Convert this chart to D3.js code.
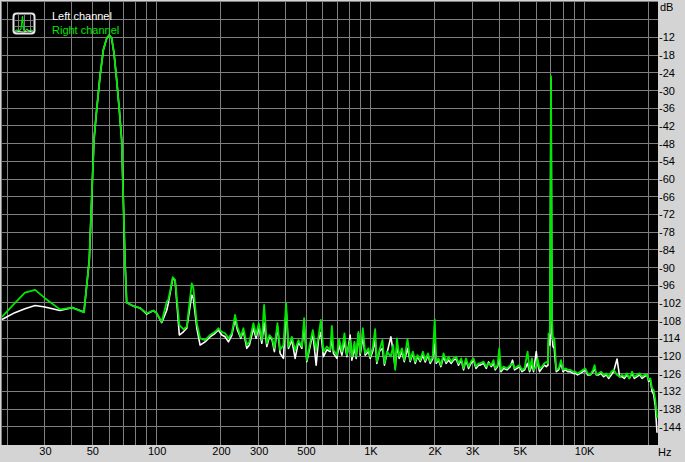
<!DOCTYPE html>
<html>
<head>
<meta charset="utf-8">
<script src="https://cdn.jsdelivr.net/npm/d3@7"></script>
<style>
  html, body { margin: 0; padding: 0; background: #d4d4d4; }
  svg { display: block; font-family: "Liberation Sans", Arial, sans-serif; }
</style>
</head>
<body>
<div id="chart"></div>
<script>
"use strict";

// frequency bins (Hz), shared by both channels
const freqs = [18.9, 21.7, 24.2, 27.0, 30.0, 35.3, 40.2, 45.7, 48.4, 50.9,
    52.4, 54.3, 56.3, 58.4, 60.0, 61.6, 63.2, 65.0, 66.9, 68.6,
    71.1, 72.4, 77.8, 83.6, 89.9, 96.5, 100, 105.6, 111.5, 113.4,
    119, 122, 127.7, 133.4, 138.3, 146, 148.5, 154.1, 159.7, 168.5,
    177.8, 187.7, 194.5, 201.8, 209.1, 216.7, 224.7, 232.8, 238.7, 247.6,
    254.6, 264.1, 271.6, 283.6, 292, 300.6, 310.5, 318.3, 327.7, 337,
    347, 355.6, 367.4, 378.2, 392, 403.5, 413.6, 429.1, 444.6, 460.7,
    477.9, 489.9, 504.3, 518.6, 538, 557.6, 571.5, 586.6, 603.2, 625.7,
    648.4, 660.4, 671.8, 697, 714.4, 735.6, 756.4, 776.2, 804.3, 819.2,
    842.6, 858, 879.6, 895.8, 922.3, 945.5, 979.7, 997.9, 1025, 1053,
    1072, 1103, 1139, 1164, 1195, 1247, 1279, 1307, 1331, 1364,
    1405, 1440, 1492, 1536, 1581, 1621, 1662, 1711, 1761, 1806,
    1859, 1905, 1957, 2000, 2033, 2084, 2139, 2199, 2264, 2321,
    2390, 2449, 2522, 2585, 2662, 2729, 2800, 2880, 2955, 3039,
    3118, 3207, 3266, 3385, 3485, 3572, 3678, 3770, 3840, 3936,
    4009, 4083, 4199, 4355, 4513, 4627, 4727, 4852, 4989, 5120,
    5265, 5438, 5556, 5702, 5801, 5972, 6056, 6188, 6350, 6510,
    6653, 6776, 6820, 6925, 7000, 7074, 7151, 7253, 7332, 7412,
    7597, 7797, 7966, 8166, 8389, 8619, 8872, 9096, 9324, 9598,
    9883, 10130, 10380, 10690, 11010, 11200, 11410, 11690, 12000, 12340,
    12700, 13020, 13410, 13740, 14260, 14660, 15050, 15420, 15880, 16280,
    16760, 17180, 17690, 18190, 18670, 19130, 19700, 20040, 20410, 20790,
    21150, 21540, 21940];

const leftDb = [-107.6, -105.3, -104.0, -102.9, -103.4, -104.6, -103.6, -105.1, -87.5, -46.8,
    -36.6, -25.3, -16.3, -12.3, -11.2, -12.3, -17.4, -26.4, -36.6, -46.8,
    -87.5, -101.9, -103.1, -103.7, -105.8, -104.6, -105.5, -108.7, -104.5, -102.1,
    -93.6, -94.5, -112.9, -111.8, -110.6, -99.3, -100.5, -110.5, -116.3, -115.2,
    -113.5, -112.3, -111.2, -112.9, -113.5, -115.2, -113.0, -107.5, -111.2, -114.0,
    -111.5, -117.4, -116.3, -110.6, -114.0, -110.0, -115.7, -108.8, -116.8, -113.5,
    -114.6, -118.5, -110.0, -119.1, -120.8, -104.0, -117.4, -114.6, -120.8, -115.2,
    -117.4, -109.5, -121.9, -117.9, -112.3, -123.1, -114.6, -112.0, -120.2, -117.9,
    -118.5, -113.5, -119.1, -120.8, -116.3, -119.7, -115.2, -120.2, -112.9, -121.4,
    -117.4, -120.8, -112.3, -119.7, -113.5, -119.7, -118.5, -120.8, -118.5, -114.6,
    -122.5, -118.5, -117.4, -123.1, -119.1, -113.5, -118.5, -124.2, -116.3, -120.8,
    -118.5, -121.9, -117.4, -121.9, -119.1, -122.5, -120.2, -121.9, -119.7, -122.0,
    -119.7, -122.5, -121.0, -116.0, -122.5, -121.4, -123.6, -120.2, -122.5, -121.4,
    -122.5, -121.4, -121.0, -123.1, -121.4, -124.7, -121.4, -124.2, -122.5, -121.4,
    -124.2, -123.1, -123.1, -122.5, -124.2, -122.0, -123.6, -122.5, -124.7, -123.6,
    -121.0, -125.3, -124.2, -124.7, -123.6, -121.4, -124.7, -124.2, -123.6, -125.3,
    -124.7, -122.5, -125.3, -123.1, -125.3, -118.5, -122.5, -125.3, -124.2, -123.1,
    -123.6, -123.1, -114.6, -116.3, -26.0, -112.3, -116.8, -117.4, -121.9, -125.3,
    -124.7, -122.5, -125.3, -124.7, -125.3, -125.3, -125.9, -125.9, -126.4, -125.9,
    -125.3, -124.7, -126.4, -126.4, -125.3, -124.2, -126.4, -126.4, -125.9, -127.0,
    -126.4, -127.6, -126.4, -125.3, -121.0, -127.0, -127.0, -127.6, -126.4, -127.6,
    -125.9, -127.6, -127.0, -126.4, -127.6, -127.0, -126.4, -128.6, -128.1, -132.0,
    -133.0, -137.0, -146.0];

const rightDb = [-106.7, -102.1, -98.5, -97.6, -100.4, -104.2, -103.6, -105.2, -87.5, -46.8,
    -36.6, -25.3, -16.3, -12.3, -11.2, -12.3, -17.4, -26.4, -36.6, -46.8,
    -87.5, -101.9, -103.1, -103.7, -105.5, -104.6, -105.5, -108.4, -101.6, -101.0,
    -93.3, -94.2, -109.5, -110.9, -110.1, -95.4, -96.9, -108.9, -114.0, -114.6,
    -112.9, -111.8, -110.6, -111.8, -112.3, -114.0, -112.3, -106.1, -110.1, -113.5,
    -110.6, -116.3, -115.2, -108.9, -112.9, -108.9, -114.6, -102.7, -115.7, -112.9,
    -114.0, -117.4, -108.9, -118.0, -116.3, -102.1, -116.8, -113.5, -118.0, -114.6,
    -116.8, -107.2, -121.4, -116.8, -111.2, -118.0, -113.5, -107.8, -118.5, -116.8,
    -118.0, -109.8, -118.0, -119.7, -114.3, -118.5, -112.3, -119.7, -114.6, -120.2,
    -115.2, -120.2, -111.8, -119.0, -110.6, -119.1, -117.4, -120.2, -117.3, -110.9,
    -121.9, -118.0, -114.6, -122.5, -118.5, -120.2, -116.3, -124.7, -114.0, -120.0,
    -117.4, -121.4, -114.3, -121.4, -118.5, -121.9, -119.7, -121.4, -118.5, -121.4,
    -119.1, -121.9, -120.3, -107.6, -121.9, -120.8, -123.1, -119.1, -121.9, -120.2,
    -121.9, -120.8, -120.2, -122.5, -120.8, -124.2, -120.8, -123.6, -121.9, -120.8,
    -123.6, -122.5, -122.5, -121.9, -123.6, -122.5, -123.1, -121.4, -124.2, -123.1,
    -117.4, -124.7, -123.6, -124.2, -123.1, -122.5, -124.2, -123.6, -123.1, -124.7,
    -124.2, -118.5, -124.7, -120.8, -124.7, -123.6, -120.8, -124.2, -123.6, -122.5,
    -122.0, -122.5, -112.3, -112.3, -25.1, -107.8, -114.6, -114.0, -119.1, -124.7,
    -124.2, -121.4, -124.7, -124.2, -124.7, -124.7, -125.3, -125.3, -125.9, -125.3,
    -124.7, -124.2, -125.9, -126.4, -124.7, -123.1, -126.4, -125.9, -125.3, -126.4,
    -125.9, -127.0, -125.3, -124.7, -126.4, -127.0, -126.4, -127.0, -125.9, -127.6,
    -125.3, -127.0, -126.4, -125.9, -127.0, -126.4, -126.4, -128.1, -127.6, -131.0,
    -131.5, -134.9, -141.0];

const gridFreqs = [20, 30, 40, 50, 60, 70, 80, 90, 100, 200, 300, 400, 500, 600, 700, 800, 900,
    1000, 2000, 3000, 4000, 5000, 6000, 7000, 8000, 9000, 10000, 20000];
const freqLabelValues = [30, 50, 100, 200, 300, 500, 1000, 2000, 3000, 5000, 10000];
const freqLabels = ["30", "50", "100", "200", "300", "500", "1K", "2K", "3K", "5K", "10K"];
const dbGrid = [-6, -12, -18, -24, -30, -36, -42, -48, -54, -60, -66, -72, -78, -84, -90,
    -96, -102, -108, -114, -120, -126, -132, -138, -144];
const dbLabels = [-12, -18, -24, -30, -36, -42, -48, -54, -60, -66, -72, -78, -84, -90,
    -96, -102, -108, -114, -120, -126, -132, -138, -144];
const seriesNames = ["Left channel", "Right channel"];

function spectrum(div) {
    const WIDTH = 685;
    const HEIGHT = 462;
    const GREEN = "#00e800";
    const GRID = "#808080";
    const plot = {left: 1, right: 658, top: 1, bottom: 445};

    const x = d3.scaleLog().domain([18.9, 22050]).range([2, 657.5]);
    const y = d3.scaleLinear().domain([0, -150]).range([2, 444.5]);
    const snap = v => Math.floor(v) + 0.5;

    const svg = d3.select(div)
        .append("svg")
        .attr("width", WIDTH)
        .attr("height", HEIGHT);

    svg.append("rect")
        .attr("width", WIDTH)
        .attr("height", HEIGHT)
        .attr("fill", "#d4d4d4");

    svg.append("rect")
        .attr("x", plot.left)
        .attr("y", plot.top)
        .attr("width", plot.right - plot.left)
        .attr("height", plot.bottom - plot.top)
        .attr("fill", "#000");

    svg.append("clipPath")
        .attr("id", "plotClip")
        .append("rect")
        .attr("x", plot.left)
        .attr("y", plot.top)
        .attr("width", plot.right - plot.left)
        .attr("height", plot.bottom - plot.top);

    // grid
    const grid = svg.append("g")
        .attr("stroke", GRID)
        .attr("stroke-width", 1)
        .attr("shape-rendering", "crispEdges");
    grid.selectAll(".v")
        .data(gridFreqs)
        .enter()
        .append("line")
        .attr("x1", d => snap(x(d)))
        .attr("x2", d => snap(x(d)))
        .attr("y1", plot.top)
        .attr("y2", plot.bottom);
    grid.selectAll(".h")
        .data(dbGrid)
        .enter()
        .append("line")
        .attr("x1", plot.left)
        .attr("x2", plot.right)
        .attr("y1", d => snap(y(d)))
        .attr("y2", d => snap(y(d)));
    grid.append("line")
        .attr("x1", plot.left + 0.5).attr("x2", plot.left + 0.5)
        .attr("y1", plot.top).attr("y2", plot.bottom);
    grid.append("line")
        .attr("x1", plot.left).attr("x2", plot.right)
        .attr("y1", plot.top + 0.5).attr("y2", plot.top + 0.5);

    // channels
    const line = d3.line()
        .x(d => x(d[0]))
        .y(d => y(d[1]));
    const curves = svg.append("g").attr("clip-path", "url(#plotClip)");
    curves.append("path")
        .datum(d3.zip(freqs, leftDb))
        .attr("fill", "none")
        .attr("stroke", "#ffffff")
        .attr("stroke-width", 1.6)
        .attr("stroke-linejoin", "round")
        .attr("d", line);
    curves.append("path")
        .datum(d3.zip(freqs, rightDb))
        .attr("fill", "none")
        .attr("stroke", GREEN)
        .attr("stroke-width", 1.8)
        .attr("stroke-linejoin", "round")
        .attr("d", line);

    // axes
    const yAxis = svg.append("g")
        .attr("transform", "translate(" + (plot.right - 1) + ",0)")
        .call(d3.axisRight(y).tickValues(dbLabels).tickSize(0).tickPadding(2).tickFormat(d => String(d)));
    const xAxis = svg.append("g")
        .attr("transform", "translate(0," + y(-150) + ")")
        .call(d3.axisBottom(x).tickValues(freqLabelValues).tickSize(0).tickPadding(3)
            .tickFormat((d, i) => freqLabels[i]));
    [yAxis, xAxis].forEach(g => {
        g.select(".domain").remove();
        g.attr("font-family", null).attr("font-size", null);
        g.selectAll("text")
            .attr("fill", "#000")
            .style("font-size", "11px");
    });

    svg.append("text")
        .attr("x", 660)
        .attr("y", 11)
        .attr("font-size", 11)
        .text("dB");
    svg.append("text")
        .attr("x", 658)
        .attr("y", 456)
        .attr("font-size", 11)
        .text("Hz");

    // legend icon
    const icon = svg.append("g");
    icon.append("rect")
        .attr("x", 13.5).attr("y", 13.5)
        .attr("width", 21).attr("height", 20)
        .attr("rx", 3)
        .attr("fill", "#000")
        .attr("stroke", "#e6e6e6")
        .attr("stroke-width", 2);
    icon.selectAll(".iv")
        .data([18.5, 24.5, 30.5])
        .enter()
        .append("line")
        .attr("x1", d => d).attr("x2", d => d)
        .attr("y1", 15).attr("y2", 32)
        .attr("stroke", GRID);
    icon.selectAll(".ih")
        .data([20.5, 26.5])
        .enter()
        .append("line")
        .attr("x1", 15).attr("x2", 33)
        .attr("y1", d => d).attr("y2", d => d)
        .attr("stroke", GRID);
    icon.append("path")
        .attr("d", "M15,31 L17,30 L19,31 L21,29 L22.5,16 L23.5,30 L25,31 L27,29 L29,31 L31,30 L33,31")
        .attr("fill", "none")
        .attr("stroke", GREEN)
        .attr("stroke-width", 1.2);
    icon.append("path")
        .attr("d", "M15,32 L19,31.5 L24,32 L28,31 L33,32")
        .attr("fill", "none")
        .attr("stroke", "#ffffff")
        .attr("stroke-width", 0.8);

    svg.selectAll(".legend")
        .data(seriesNames)
        .enter()
        .append("text")
        .attr("x", 52)
        .attr("y", (d, i) => 19.5 + i * 14.5)
        .attr("font-size", 11)
        .attr("fill", (d, i) => i === 0 ? "#ffffff" : GREEN)
        .text(d => d);
}

spectrum("#chart");
</script>
</body>
</html>
